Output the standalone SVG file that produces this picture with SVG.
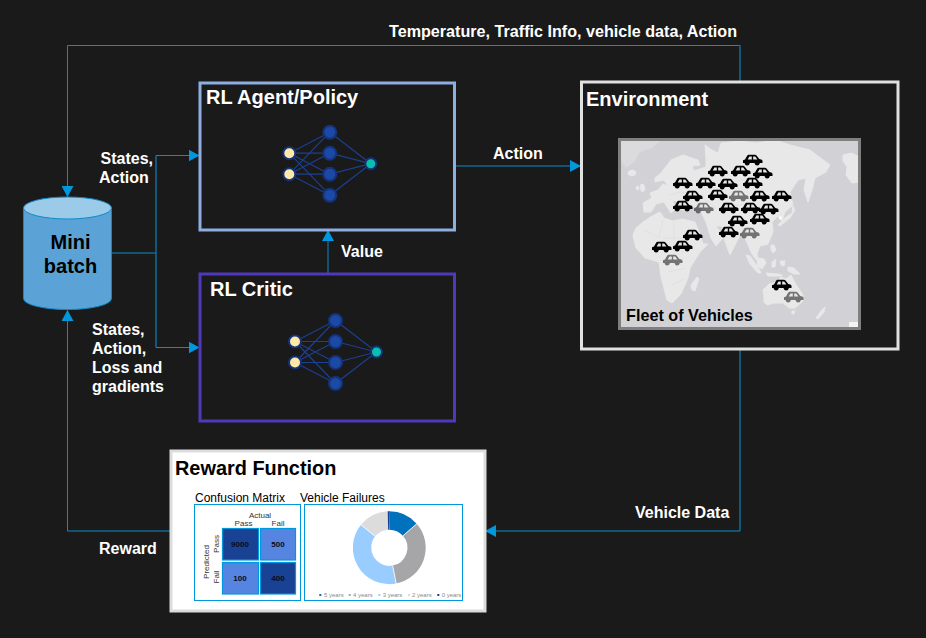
<svg xmlns="http://www.w3.org/2000/svg" width="926" height="638" viewBox="0 0 926 638">
<style>
.t{font-family:"Liberation Sans",Arial,sans-serif;font-weight:700;fill:#fff;font-size:16px}
.h{font-size:20px}
.k{fill:#000}
.c{fill:none;stroke:#0f8ac9;stroke-width:1}
.d{fill:none;stroke:#0d6c9e;stroke-width:1.500}
.nl{stroke:#1c3f8f;stroke-width:1.200;fill:none}
.hid{fill:#1b49a5;stroke:#14337a;stroke-width:2}
.inp{fill:#ffe9a8;stroke:#14337a;stroke-width:2}
.out{fill:#08bfae;stroke:#14337a;stroke-width:2}
.s{font-family:"Liberation Sans",Arial,sans-serif;fill:#333;font-size:8px}
.n{font-family:"Liberation Sans",Arial,sans-serif;font-weight:700;fill:#0a0a1a;font-size:8px;text-anchor:middle}
.l{font-family:"Liberation Sans",Arial,sans-serif;fill:#8a8a8a;font-size:6px}
.cell{stroke:#0097dc;stroke-width:1.200}
.land{fill:#e8e8e9;stroke:#e8e8e9;stroke-width:1;stroke-linejoin:round}
.far{fill:#dbdbde}
.b{fill:none;stroke:#dadadc;stroke-width:.6}
</style>
<defs>
<marker id="a" markerWidth="11" markerHeight="12" refX="11" refY="6" orient="auto" markerUnits="userSpaceOnUse"><path d="M0 0L11 6L0 12Z" fill="#0097dc"/></marker>
<clipPath id="mc"><rect x="620" y="140" width="239" height="189"/></clipPath>
<g id="net">
<path class="nl" d="M0 0L40.500-21M0 0L40.500 0M0 0L40.500 21M0 0L40.500 42M0 21L40.500-21M0 21L40.500 0M0 21L40.500 21M0 21L40.500 42M40.500-21L81.500 10.500M40.500 0L81.500 10.500M40.500 21L81.500 10.500M40.500 42L81.500 10.500"/>
<circle class="inp" cx="0" cy="0" r="6"/><circle class="inp" cx="0" cy="21" r="6"/>
<circle class="hid" cx="40.500" cy="-21" r="6.500"/><circle class="hid" cx="40.500" cy="0" r="6.500"/><circle class="hid" cx="40.500" cy="21" r="6.500"/><circle class="hid" cx="40.500" cy="42" r="6.500"/>
<circle class="out" cx="81.500" cy="10.500" r="5.500"/>
</g>
<g id="car"><path d="M-9 3v-2.800l2-.8 2.300-3.900q.4-.7 1.300-.7h6.400q.9 0 1.500.7l2.800 3.600 1.800.5q1.400.4 1.400 1.500v1.900z"/><circle cx="-4.800" cy="3.200" r="2.400"/><circle cx="5.200" cy="3.200" r="2.400"/><path d="M-4.300 -.6l1.700-3h2.400v3zM1.200 -.6v-3h2l2.200 3z" fill="#e6e6e6"/></g>
</defs>
<rect width="926" height="638" fill="#1a1a1a"/>

<g id="connectors">
<path class="c" d="M740 45.500H67.500V197" marker-end="url(#a)"/>
<path class="d" d="M740 81V45"/>
<path class="c" d="M112 253H156"/>
<path class="d" d="M156 253V155.500"/>
<path class="d" d="M156 253V347.500"/>
<path class="c" d="M156 155.500H199.500" marker-end="url(#a)"/>
<path class="c" d="M156 347.500H199.500" marker-end="url(#a)"/>
<path class="c" d="M328 273V230" marker-end="url(#a)"/>
<path class="c" d="M455 166H581" marker-end="url(#a)"/>
<path class="d" d="M740 350V531"/>
<path class="c" d="M740 531H485" marker-end="url(#a)"/>
<path class="c" d="M170 531H67.500V310" marker-end="url(#a)"/>
</g>

<g id="minibatch">
<path d="M23.500 208V298.500A44 11 0 0 0 111.500 298.500V208Z" fill="#5ba3d6" stroke="#0f8ac9" stroke-width="1"/>
<ellipse cx="67.500" cy="208" rx="44" ry="11" fill="#9bcbe9" stroke="#0f8ac9" stroke-width="1"/>
<text class="t k" x="70.500" y="248.500" text-anchor="middle" style="font-size:20px">Mini</text>
<text class="t k" x="70.500" y="272.500" text-anchor="middle" style="font-size:20px">batch</text>
</g>

<g id="agent">
<rect x="200" y="83" width="254.500" height="147" fill="#1a1a1a" stroke="#8eaee2" stroke-width="3"/>
<text class="t h" x="206" y="104">RL Agent/Policy</text>
<use href="#net" x="289.300" y="153.200"/>
</g>

<g id="critic">
<rect x="200" y="274" width="254.500" height="147" fill="#1a1a1a" stroke="#5038bb" stroke-width="3"/>
<text class="t h" x="210" y="296">RL Critic</text>
<use href="#net" x="295" y="341.500"/>
</g>

<g id="environment">
<rect x="581.500" y="82" width="316.500" height="267" fill="#1a1a1a" stroke="#e0e0e0" stroke-width="3"/>
<text class="t h" x="586" y="106">Environment</text>
<rect x="619" y="139" width="241" height="190" fill="#d2d2d6"/>
<g id="map" clip-path="url(#mc)">
<path class="far" d="M620 141H660L652 148 640 152 634 162 626 168 620 160Z"/>
<path class="land" d="M629 171l4-1 3 2-1 3-4 1-3-2zM641 184l3 1 1 5-3 2-2-4zM637 186l2 1-1 3-2-1z"/>
<path class="land" d="M644 212L643 203 652 198 650 193 658 190 663 184 668 186 664 180 655 182 655 178 661 173 671 160 683 155 698 160 700 165 692 166 694 171 706 167 706 158 705 145 712 150 718 153 721 143 738 141 757 143 775 140 790 145 810 150 830 165 826 172 815 178 812 190 808 202 804 190 806 178 798 180 790 192 793 205 785 212 782 221 778 216 772 222 773 232 768 244 760 246 757 254 758 262 752 254 746 240 741 233 736 243 730 255 723 236 722 226 716 226 724 237 716 246 711 238 706 222 702 214 702 206 688 207 682 210 680 202 672 200 676 208 671 213 664 202 656 204 651 212Z"/>
<path class="land" d="M636 228L643 222 652 216 660 212 664 218 673 221 682 219 695 222 699 232 703 244 708 244 700 252 690 268 688 278 681 294 672 303 667 300 661 277 659 262 645 258 636 248 633 235Z"/>
<path class="land" d="M697 277l2 2-4 12-3-1-1-5zM763 290l6-6 8-2 4-5 5 2 5-4 4 8 8 12 0 6-8 7-6 0-6-5-9 0-7 2-3-3 0-6zM792 311l3 0-1 3-2 0zM825 307l-1 5-6 7-2-1 5-7zM793 206l2 4-5 8-10 8-2-1 8-8 6-4zM771 245l3 0 2 5-3 3-2-4zM746 255l4 1 9 13 2 4-3 0-8-9zM758 258l6 1 2 4-4 6-5-3zM766 273l12 1 4 1 0 1-14 0zM772 262l4-3-1 8-3 0zM788 267l6 1 6 6-6 0-6-3zM780 261l5 0-1 5-3-1zM843 155l8-2 7 3 1 26-7 1-6-8 1-8-4-6z"/>
<path class="b" d="M645 230l14 8 4-18M663 238l20 0M674 222l0 30M650 250l20-4 14 6M668 272l18-4M672 285l12-6M670 195l10-3 20 3M690 180l30 4 30-6M720 184l8 22 24-2M700 195l16 14"/>
<circle cx="780.500" cy="218" r="1.800" fill="#fafafa"/>
<rect x="849" y="322" width="9" height="5" fill="#f4f4f4"/>
</g>
<rect x="619.500" y="139.500" width="240" height="189" fill="none" stroke="#7f7f7f" stroke-width="3"/>
<g id="cars">
<use href="#car" x="752" y="160"/><use href="#car" x="717" y="171"/><use href="#car" x="740" y="171"/><use href="#car" x="762" y="173"/>
<use href="#car" x="682" y="183"/><use href="#car" x="705" y="183"/><use href="#car" x="727" y="184"/><use href="#car" x="752" y="183"/>
<use href="#car" x="692" y="196"/><use href="#car" x="717" y="195"/><use href="#car" x="738" y="196" opacity=".5"/><use href="#car" x="759" y="196"/><use href="#car" x="781" y="196"/>
<use href="#car" x="682" y="206"/><use href="#car" x="703" y="208" opacity=".5"/><use href="#car" x="728" y="208"/><use href="#car" x="750" y="208"/><use href="#car" x="768" y="209"/>
<use href="#car" x="737" y="221"/><use href="#car" x="759" y="219"/><use href="#car" x="728" y="232"/><use href="#car" x="749" y="233" opacity=".5"/>
<use href="#car" x="692" y="235"/><use href="#car" x="661" y="247"/><use href="#car" x="682" y="246"/><use href="#car" x="672" y="260" opacity=".5"/>
<use href="#car" x="781" y="285"/><use href="#car" x="793" y="297" opacity=".5"/>
</g>
<text class="t k" x="626" y="321" style="font-size:16.200px">Fleet of Vehicles</text>
</g>

<g id="reward">
<rect x="171" y="451" width="314" height="160" fill="#fff" stroke="#dcdcdc" stroke-width="3"/>
<text class="t h k" x="175" y="475" style="font-size:19.900px">Reward Function</text>
<text font-family="Liberation Sans,Arial,sans-serif" font-size="12" x="195" y="502">Confusion Matrix</text>
<text font-family="Liberation Sans,Arial,sans-serif" font-size="12" x="300" y="502">Vehicle Failures</text>
<rect x="194.500" y="504.500" width="106" height="96" fill="#fff" stroke="#0097dc"/>
<rect x="304.500" y="504.500" width="158" height="96" fill="#fff" stroke="#0097dc"/>
<text class="s" x="260" y="517.500" text-anchor="middle">Actual</text>
<text class="s" x="243.500" y="525.500" text-anchor="middle">Pass</text>
<text class="s" x="278" y="525.500" text-anchor="middle">Fail</text>
<text class="s" transform="translate(208.500,562) rotate(-90)" text-anchor="middle">Predicted</text>
<text class="s" transform="translate(218.500,544) rotate(-90)" text-anchor="middle">Pass</text>
<text class="s" transform="translate(218.500,577) rotate(-90)" text-anchor="middle">Fail</text>
<rect class="cell" x="222.500" y="528.500" width="36" height="31.500" fill="#1a4294"/>
<rect class="cell" x="260.500" y="528.500" width="35" height="31.500" fill="#5585e0"/>
<rect class="cell" x="222.500" y="562.500" width="36" height="31.500" fill="#5585e0"/>
<rect class="cell" x="260.500" y="562.500" width="35" height="31.500" fill="#1a4294"/>
<text class="n" x="240" y="547">9000</text><text class="n" x="278" y="547">500</text>
<text class="n" x="240" y="581">100</text><text class="n" x="278" y="581">400</text>
<g id="donut" fill="none" stroke-width="18.300">
<path d="M389.300 520.500A27.300 27.300 0 0 1 409.800 529.800" stroke="#0071bc"/>
<path d="M409.800 529.800A27.300 27.300 0 0 1 394.300 574.600" stroke="#a6a6a9"/>
<path d="M394.300 574.600A27.300 27.300 0 0 1 368.100 530.600" stroke="#99ccff"/>
<path d="M368.100 530.600A27.300 27.300 0 0 1 387.900 520.500" stroke="#dcdcdc"/>
<path d="M387.900 520.500A27.300 27.300 0 0 1 389.300 520.500" stroke="#1a4294"/>
<path stroke="#fff" stroke-width=".8" d="M403 535.800L417 523.500M392.700 565.700L396.300 584M374.900 536.200L361 524.800"/>
</g>
<g id="legend">
<rect x="319.300" y="594" width="2" height="2" fill="#0071bc"/><text class="l" x="324" y="597">5 years</text>
<rect x="348.700" y="594" width="2" height="2" fill="#a6a6a9"/><text class="l" x="353" y="597">4 years</text>
<rect x="378.300" y="594" width="2" height="2" fill="#99ccff"/><text class="l" x="382.700" y="597">3 years</text>
<rect x="408" y="594" width="2" height="2" fill="#dcdcdc"/><text class="l" x="412" y="597">2 years</text>
<rect x="437.300" y="594" width="2" height="2" fill="#1a4294"/><text class="l" x="441.700" y="597">0 years</text>
</g>
</g>

<g id="labels">
<text class="t" x="737" y="37" text-anchor="end" style="font-size:16.150px">Temperature, Traffic Info, vehicle data, Action</text>
<text class="t" x="100.500" y="164">States,</text>
<text class="t" x="99" y="183">Action</text>
<text class="t" x="92" y="335">States,</text>
<text class="t" x="92" y="354">Action,</text>
<text class="t" x="92" y="373">Loss and</text>
<text class="t" x="92" y="392">gradients</text>
<text class="t" x="341" y="257">Value</text>
<text class="t" x="493" y="159">Action</text>
<text class="t" x="635" y="518">Vehicle Data</text>
<text class="t" x="99" y="554">Reward</text>
</g>
</svg>
